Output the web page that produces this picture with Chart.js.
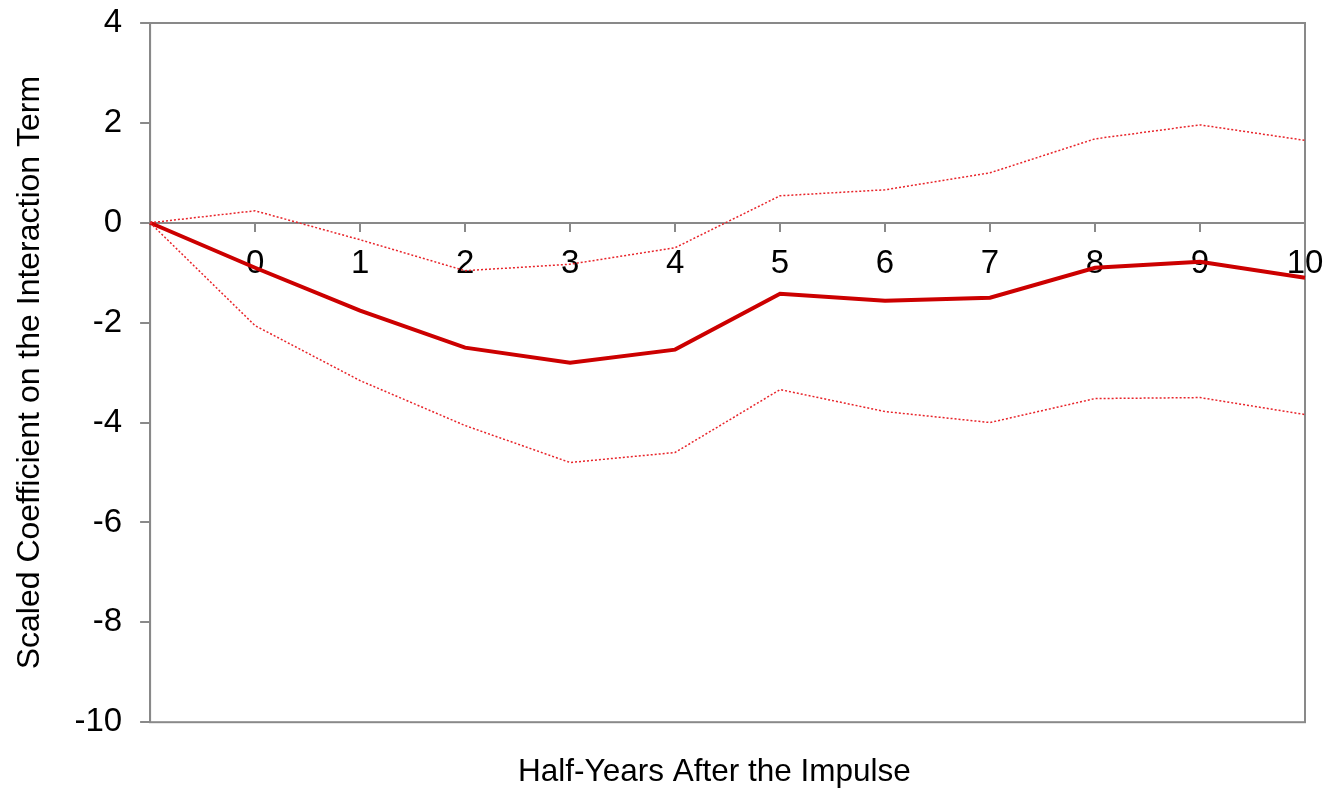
<!DOCTYPE html>
<html>
<head>
<meta charset="utf-8">
<script src="https://cdn.jsdelivr.net/npm/chart.js@4/dist/chart.umd.min.js"></script>
<style>
  body { margin: 0; background: #fff; }
  #wrap { width: 1327px; height: 788px; }
</style>
</head>
<body>
<div id="wrap"><canvas id="irfChart"></canvas></div>
<script>
// half-years after the impulse (first slot is the unlabelled starting point)
const halfYears = ['', '0', '1', '2', '3', '4', '5', '6', '7', '8', '9', '10'];
const coefficient = [0, -0.9, -1.76, -2.5, -2.8, -2.54, -1.42, -1.56, -1.5, -0.9, -0.78, -1.1];
const upperBand = [0, 0.24, -0.34, -0.96, -0.83, -0.5, 0.54, 0.66, 1.0, 1.68, 1.96, 1.65];
const lowerBand = [0, -2.06, -3.16, -4.06, -4.8, -4.6, -3.34, -3.78, -4.0, -3.52, -3.5, -3.84];
const yTicksMin = -10, yTicksMax = 4, yStep = 2;

const axisGray = '#898989';
const fontFam = '"Liberation Sans", Arial, sans-serif';

// frame round the plot area, like the excel original
const plotFrame = {
  id: 'plotFrame',
  beforeDatasetsDraw(chart) {
    const a = chart.chartArea;
    const c = chart.ctx;
    c.save();
    c.strokeStyle = axisGray;
    c.lineWidth = 2;
    c.strokeRect(a.left, a.top, a.right - a.left, a.bottom - a.top);
    c.restore();
  }
};

const ctx = document.getElementById('irfChart').getContext('2d');
const irfChart = new Chart(ctx, {
  type: 'line',
  data: {
    labels: halfYears,
    datasets: [
      {
        label: 'Upper',
        data: upperBand,
        borderColor: '#e8242a',
        borderWidth: 1.5,
        borderDash: [2, 2],
        pointRadius: 0,
        fill: false
      },
      {
        label: 'Lower',
        data: lowerBand,
        borderColor: '#e8242a',
        borderWidth: 1.5,
        borderDash: [2, 2],
        pointRadius: 0,
        fill: false
      },
      {
        label: 'Coefficient',
        data: coefficient,
        borderColor: '#cc0000',
        borderWidth: 4,
        pointRadius: 0,
        fill: false
      }
    ]
  },
  options: {
    responsive: true,
    maintainAspectRatio: false,
    animation: false,
    layout: { padding: { top: 23, right: 22, left: 0, bottom: 0 } },
    plugins: {
      legend: { display: false },
      tooltip: { enabled: false }
    },
    scales: {
      x: {
        type: 'category',
        position: { y: 0 },
        offset: false,
        afterFit: s => { s.paddingLeft = 0; s.paddingRight = 0; },
        grid: { drawOnChartArea: false, drawTicks: true, tickLength: 8, color: axisGray, lineWidth: 2 },
        border: { display: true, color: axisGray, width: 2 },
        ticks: {
          color: '#000',
          font: { family: fontFam, size: 33 },
          padding: 13,
          maxRotation: 0,
          autoSkip: false
        }
      },
      xb: {
        type: 'category',
        position: 'bottom',
        labels: halfYears,
        offset: false,
        grid: { display: false },
        border: { display: false },
        ticks: { display: false },
        title: {
          display: true,
          text: 'Half-Years After the Impulse   ',
          color: '#000',
          font: { family: fontFam, size: 31.5 },
          padding: { top: 23, bottom: -3 }
        }
      },
      y: {
        min: yTicksMin,
        max: yTicksMax,
        afterFit: s => { s.paddingTop = 0; s.paddingBottom = 0; },
        grid: { drawOnChartArea: false, drawTicks: true, tickLength: 10, color: axisGray, lineWidth: 2 },
        border: { display: true, color: axisGray, width: 2 },
        ticks: {
          stepSize: yStep,
          color: '#000',
          font: { family: fontFam, size: 33 },
          padding: 18
        },
        title: {
          display: true,
          text: 'Scaled Coefficient on the Interaction Term',
          color: '#000',
          font: { family: fontFam, size: 32 },
          padding: { top: 11, bottom: 7 }
        }
      }
    }
  },
  plugins: [plotFrame]
});
</script>
</body>
</html>
